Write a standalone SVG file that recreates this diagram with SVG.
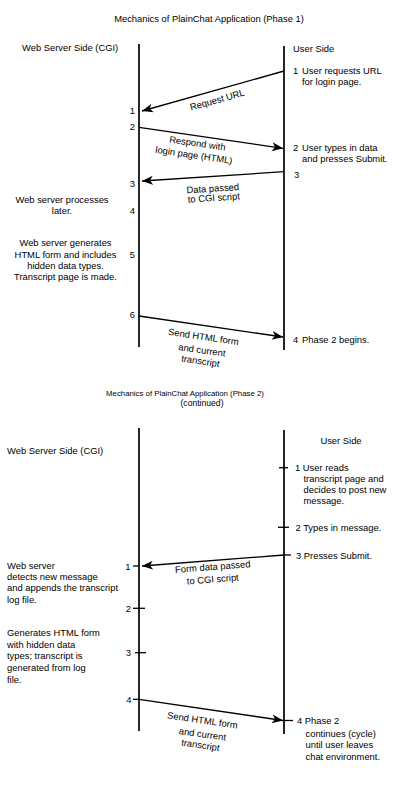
<svg xmlns="http://www.w3.org/2000/svg" width="400" height="793" viewBox="0 0 400 793">
<defs>
<style>
text{font-family:"Liberation Sans",Arial,sans-serif;font-size:9.4px;fill:#000}
.m{text-anchor:middle}
.e{text-anchor:end}
.t2{font-size:7.8px}
.t2c{font-size:8.6px}
.life{stroke:#000;stroke-width:1.7;fill:none}
.msg{stroke:#000;stroke-width:1.3;fill:none}
.tick{stroke:#000;stroke-width:1.3;fill:none}
</style>
<marker id="ah" markerWidth="12" markerHeight="10" refX="11" refY="4.5" orient="auto" markerUnits="userSpaceOnUse"><path d="M0,0 L11,4.5 L0,9 L3,4.5 Z" fill="#000"/></marker>
</defs>
<rect width="400" height="793" fill="#fff"/>

<!-- Phase 1 -->
<g id="title1"><text class="m" x="209" y="21.5">Mechanics of PlainChat Application (Phase 1)</text></g>
<g id="server1">
<line class="life" x1="139" y1="44" x2="139" y2="347"/>
<text x="22" y="51">Web Server Side (CGI)</text>
</g>
<g id="user1">
<line class="life" x1="284" y1="46" x2="284" y2="350"/>
<text x="293" y="51.5">User Side</text>
</g>
<g id="u1-1"><text x="293" y="74">1</text><text x="302" y="74">User requests URL</text><text x="302" y="85">for login page.</text></g>
<g id="u1-2"><text x="293" y="150.7">2</text><text x="302" y="150.7">User types in data</text><text x="302" y="161.7">and presses Submit.</text></g>
<g id="u1-3"><text x="294" y="177.5">3</text></g>
<g id="u1-4"><text x="293" y="342.7">4</text><text x="302" y="342.7">Phase 2 begins.</text></g>
<g id="s1-1"><text class="e" x="135" y="114">1</text></g>
<g id="s1-2"><text class="e" x="135" y="129.5">2</text></g>
<g id="s1-3"><text class="e" x="135" y="186.5">3</text></g>
<g id="s1-4"><text class="e" x="135" y="213.5">4</text><text class="m" x="62" y="202.7">Web server processes</text><text class="m" x="62" y="213.5">later.</text></g>
<g id="s1-5"><text class="e" x="135" y="257.5">5</text>
<text class="m" x="65.5" y="246">Web server generates</text>
<text class="m" x="65.5" y="257.5">HTML form and includes</text>
<text class="m" x="65.5" y="268.5">hidden data types.</text>
<text class="m" x="65.5" y="280">Transcript page is made.</text></g>
<g id="s1-6"><text class="e" x="135" y="317.5">6</text></g>

<!-- Phase 2 -->
<g id="title2"><text class="m t2" x="185" y="395.5">Mechanics of PlainChat Application (Phase 2)</text><text class="m t2c" x="202" y="406">(continued)</text></g>
<g id="server2">
<line class="life" x1="139" y1="428" x2="139" y2="731"/>
<text x="7" y="453.5">Web Server Side (CGI)</text>
</g>
<g id="user2">
<line class="life" x1="284" y1="430" x2="284" y2="734"/>
<text class="m" x="341" y="443.5">User Side</text>
</g>
<g id="u2-1"><line class="tick" x1="279" y1="467.7" x2="288" y2="467.7"/><text x="295" y="471">1 User reads</text><text x="303.5" y="482">transcript page and</text><text x="303.5" y="492.7">decides to post new</text><text x="303.5" y="503.5">message.</text></g>
<g id="u2-2"><line class="tick" x1="278" y1="527.3" x2="289" y2="527.3"/><text x="295.5" y="530.7">2 Types in message.</text></g>
<g id="u2-3"><line class="tick" x1="284" y1="555" x2="291" y2="555"/><text x="296" y="558.5">3 Presses Submit.</text></g>
<g id="u2-4"><line class="tick" x1="284" y1="720.5" x2="293" y2="720.5"/><text x="297" y="724">4 Phase 2</text><text x="305.5" y="736.5">continues (cycle)</text><text x="305.5" y="748.3">until user leaves</text><text x="305.5" y="760">chat environment.</text></g>
<g id="s2-1"><line class="tick" x1="133" y1="566" x2="139" y2="566"/><text class="e" x="130.5" y="569.5">1</text>
<text x="7" y="568.5">Web server</text>
<text x="7" y="580">detects new message</text>
<text x="7" y="591.3">and appends the transcript</text>
<text x="7" y="602.7">log file.</text></g>
<g id="s2-2"><line class="tick" x1="133" y1="608.3" x2="145" y2="608.3"/><text class="e" x="131" y="611.8">2</text></g>
<g id="s2-3"><line class="tick" x1="135" y1="652.7" x2="146" y2="652.7"/><text class="e" x="131" y="656.2">3</text>
<text x="7" y="635.5">Generates HTML form</text>
<text x="7" y="647.7">with hidden data</text>
<text x="7" y="659.2">types; transcript is</text>
<text x="7" y="671">generated from log</text>
<text x="7" y="683.3">file.</text></g>
<g id="s2-4"><line class="tick" x1="133" y1="699.3" x2="139" y2="699.3"/><text class="e" x="131.5" y="702.8">4</text></g>

<!-- connectors -->
<g id="connectors">
<line class="msg" x1="284" y1="71" x2="142" y2="111" marker-end="url(#ah)"/>
<text class="m" transform="translate(218,103) rotate(-15.7)">Request URL</text>
<line class="msg" x1="139" y1="127.3" x2="283" y2="148.3" marker-end="url(#ah)"/>
<text class="m" transform="translate(197,146.5) rotate(8.3)">Respond with</text>
<text class="m" transform="translate(193.5,158.3) rotate(8.3)">login page (HTML)</text>
<line class="msg" x1="284" y1="171.7" x2="142" y2="181" marker-end="url(#ah)"/>
<text class="m" transform="translate(213,191.7) rotate(-3.6)">Data passed</text>
<text class="m" transform="translate(214,201) rotate(-3.6)">to CGI script</text>
<line class="msg" x1="139" y1="316" x2="283" y2="337" marker-end="url(#ah)"/>
<text class="m" transform="translate(203,340) rotate(8.3)">Send HTML form</text>
<text class="m" transform="translate(201.5,353.3) rotate(8.3)">and current</text>
<text class="m" transform="translate(200,364.3) rotate(8.3)">transcript</text>

<line class="msg" x1="284" y1="555" x2="142" y2="566" marker-end="url(#ah)"/>
<text class="m" transform="translate(213,570) rotate(-4.4)">Form data passed</text>
<text class="m" transform="translate(213,582.5) rotate(-4.4)">to CGI script</text>
<line class="msg" x1="139" y1="699.3" x2="283" y2="720.5" marker-end="url(#ah)"/>
<text class="m" transform="translate(202,723.5) rotate(8.3)">Send HTML form</text>
<text class="m" transform="translate(202,737.3) rotate(8.3)">and current</text>
<text class="m" transform="translate(200,748.3) rotate(8.3)">transcript</text>
</g>
</svg>
